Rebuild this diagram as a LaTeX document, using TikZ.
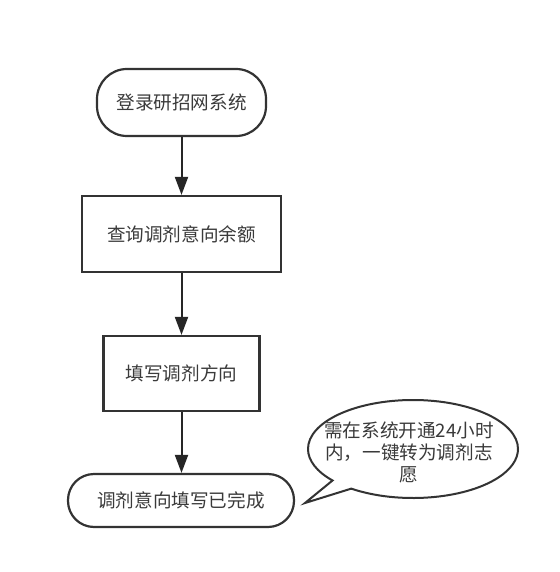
\documentclass[tikz,border=0pt]{standalone}
\usepackage{fontspec}
\setmainfont{Noto Sans CJK SC}
\usetikzlibrary{shapes.callouts,arrows.meta}
\definecolor{edge}{HTML}{333333}
\definecolor{txt}{HTML}{3A3A3A}
\tikzset{
  box/.style={draw=edge, line width=2.2pt, fill=white, text=txt, inner sep=0pt,
    font=\fontsize{18.6}{22}\selectfont},
  stadium/.style={box, rounded corners=30pt},
  flow/.style={draw=black!85, line width=2pt, -{Triangle[length=18pt,width=13pt]}}
}
\begin{document}
\begin{tikzpicture}[x=1pt,y=-1pt]
\useasboundingbox[fill=white] (0,0) rectangle (559,572);
\node[stadium, minimum width=169pt, minimum height=67pt] (n1) at (181.5,102.5) {登录研招网系统};
\node[box, minimum width=199pt, minimum height=76pt] (n2) at (181.5,234) {查询调剂意向余额};
\node[box, minimum width=156pt, minimum height=75pt] (n3) at (181.5,373.5) {填写调剂方向};
\node[stadium, rounded corners=26pt, minimum width=226pt, minimum height=53pt] (n4) at (181,500.5) {调剂意向填写已完成};
\draw[flow] (n1.south) -- (n1.south |- n2.north);
\draw[flow] (n2.south) -- (n2.south |- n3.north);
\draw[flow] (n3.south) -- (n3.south |- n4.north);
\coordinate (tip) at (305,503);
\node[ellipse callout, draw=edge, line width=2pt, fill=white, inner sep=0pt,
  minimum width=210pt, minimum height=98pt, callout absolute pointer={(tip)},
  callout pointer arc=14] (c) at (413,449) {};
\node[text=txt, font=\fontsize{18.6}{22}\selectfont, align=center, inner sep=0pt] (ct) at (409,452)
  {需在系统开通24小时\\内，一键转为调剂志\\愿};
\end{tikzpicture}
\end{document}
